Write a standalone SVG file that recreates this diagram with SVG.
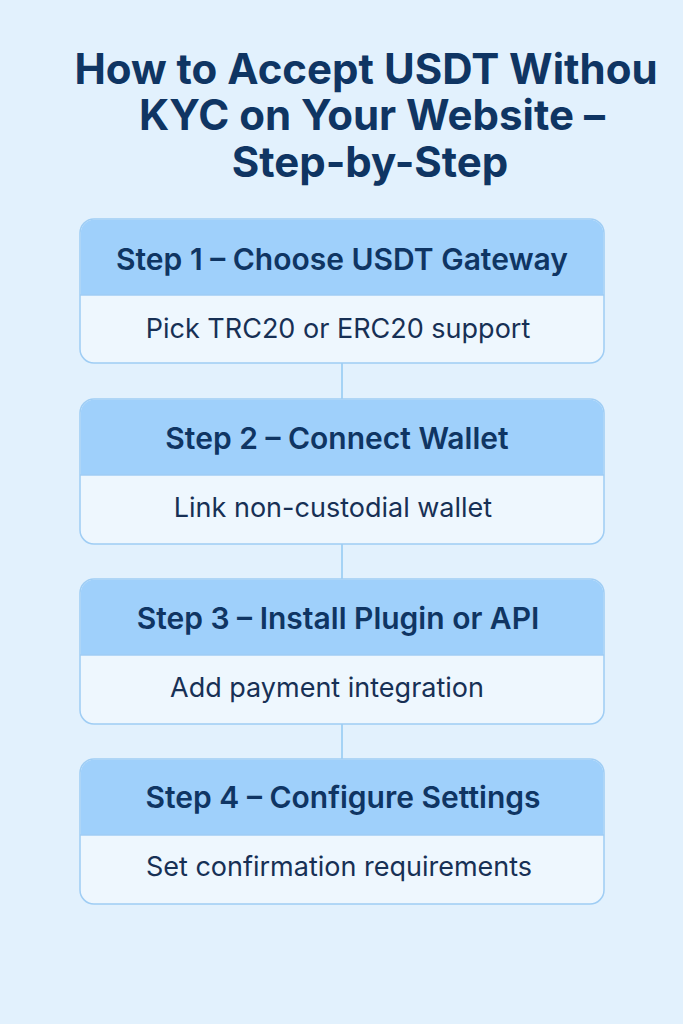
<svg xmlns="http://www.w3.org/2000/svg" width="683" height="1024" viewBox="0 0 683 1024">
<defs><style>
.t{font-family:Inter,"Noto Sans",sans-serif;font-weight:700;fill:#0f3563;text-anchor:middle}
.h{font-family:Inter,"Noto Sans",sans-serif;font-weight:600;font-size:30px;fill:#0f3563;text-anchor:middle}
.b{font-family:Inter,"Noto Sans",sans-serif;font-size:27px;fill:#173055;text-anchor:middle}
.card{fill:#eef7fe;stroke:#9fcdf4;stroke-width:1.5}
.hd{fill:#9fd0fb}
.c{stroke:#a5d3f5;stroke-width:2}
</style></defs>
<rect width="683" height="1024" fill="#e2f1fd"/>
<g id="title" class="t" font-size="42">
<text x="366" y="84">How to Accept USDT Withou</text>
<text x="372" y="130">KYC on Your Website –</text>
<text x="370" y="177">Step-by-Step</text>
</g>
<g id="connectors">
<line class="c" x1="342" y1="363" x2="342" y2="399"/>
<line class="c" x1="342" y1="544" x2="342" y2="579"/>
<line class="c" x1="342" y1="724" x2="342" y2="759"/>
</g>
<g id="step1">
<rect class="card" x="80" y="219" width="524" height="144" rx="14"/>
<path class="hd" d="M94 219.75H590A13.25 13.25 0 0 1 603.25 233V295H80.75V233A13.25 13.25 0 0 1 94 219.75Z"/>
<line x1="80" y1="295" x2="604" y2="295" stroke="#9fcdf4" stroke-width="1.5"/>
<text class="h" x="342" y="270">Step 1 – Choose USDT Gateway</text>
<text class="b" x="338" y="338">Pick TRC20 or ERC20 support</text>
</g>
<g id="step2">
<rect class="card" x="80" y="399" width="524" height="145" rx="14"/>
<path class="hd" d="M94 399.75H590A13.25 13.25 0 0 1 603.25 413V475H80.75V413A13.25 13.25 0 0 1 94 399.75Z"/>
<line x1="80" y1="475" x2="604" y2="475" stroke="#9fcdf4" stroke-width="1.5"/>
<text class="h" x="337" y="449">Step 2 – Connect Wallet</text>
<text class="b" x="333" y="517">Link non-custodial wallet</text>
</g>
<g id="step3">
<rect class="card" x="80" y="579" width="524" height="145" rx="14"/>
<path class="hd" d="M94 579.75H590A13.25 13.25 0 0 1 603.25 593V655H80.75V593A13.25 13.25 0 0 1 94 579.75Z"/>
<line x1="80" y1="655" x2="604" y2="655" stroke="#9fcdf4" stroke-width="1.5"/>
<text class="h" x="338" y="629">Step 3 – Install Plugin or API</text>
<text class="b" x="327" y="697">Add payment integration</text>
</g>
<g id="step4">
<rect class="card" x="80" y="759" width="524" height="145" rx="14"/>
<path class="hd" d="M94 759.75H590A13.25 13.25 0 0 1 603.25 773V835H80.75V773A13.25 13.25 0 0 1 94 759.75Z"/>
<line x1="80" y1="835" x2="604" y2="835" stroke="#9fcdf4" stroke-width="1.5"/>
<text class="h" x="343" y="808">Step 4 – Configure Settings</text>
<text class="b" x="339" y="876">Set confirmation requirements</text>
</g>
</svg>
